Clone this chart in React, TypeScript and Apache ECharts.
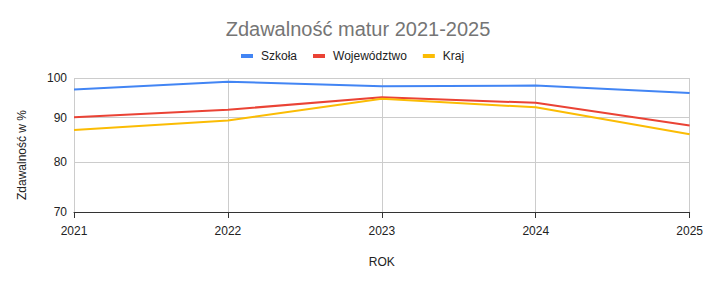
import React, { useEffect, useRef } from "react";
import * as echarts from "echarts";

const years = ["2021", "2022", "2023", "2024", "2025"];
const szkola = [97.0, 99.0, 97.8, 98.0, 96.1];
const wojewodztwo = [90.1, 91.9, 95.0, 93.6, 88.1];
const kraj = [87.1, 89.3, 94.6, 92.5, 86.1];
const yTicks = [70, 80, 90, 100];

const FONT = "'Liberation Sans', Arial, sans-serif";

export default function App() {
  const ref = useRef<HTMLDivElement>(null);
  useEffect(() => {
    document.body.style.margin = "0";
    if (!ref.current) return;
    const chart = echarts.init(ref.current, undefined, { renderer: "svg" });
    chart.setOption({
      animation: false,
      backgroundColor: "#ffffff",
      textStyle: { fontFamily: FONT },
      title: {
        text: "Zdawalność matur 2021-2025",
        left: 353,
        textAlign: "center",
        top: 14,
        textStyle: { fontFamily: FONT, fontSize: 20, fontWeight: "normal", color: "#757575" },
      },
      legend: {
        left: 236,
        top: 45,
        icon: "rect",
        itemWidth: 12,
        itemHeight: 4,
        itemGap: 16,
        textStyle: { fontFamily: FONT, fontSize: 12, color: "#222222", padding: [0, 0, 0, 3] },
        data: ["Szkoła", "Województwo", "Kraj"],
      },
      graphic: [
        {
          type: "text",
          x: 22,
          y: 155,
          rotation: Math.PI / 2,
          style: {
            text: "Zdawalność w %",
            fontFamily: FONT,
            fontSize: 12,
            fill: "#222222",
            align: "center",
            verticalAlign: "middle",
          },
        },
      ],
      grid: { left: 74, right: 15, top: 78, bottom: 73, containLabel: false },
      xAxis: [
        {
          type: "category",
          data: years,
          boundaryGap: false,
          name: "ROK",
          nameLocation: "middle",
          nameGap: 44,
          nameTextStyle: { fontFamily: FONT, fontSize: 12, color: "#222222" },
          axisLine: { show: true, lineStyle: { color: "#333333", width: 1 } },
          axisTick: { show: true, length: 6, inside: false, lineStyle: { color: "#333333" } },
          axisLabel: { margin: 13, fontFamily: FONT, fontSize: 12, color: "#222222" },
          splitLine: { show: true, lineStyle: { color: "#cccccc", width: 1 } },
          z: 3,
        },
        {
          type: "category",
          data: years,
          boundaryGap: false,
          position: "bottom",
          axisLine: { show: false },
          axisTick: { show: true, length: 6, inside: true, lineStyle: { color: "#333333" } },
          axisLabel: { show: false },
          splitLine: { show: false },
        },
      ],
      yAxis: {
        type: "log",
        logBase: 10,
        min: 70,
        max: 100,
        axisLine: { show: false },
        axisTick: { show: false, customValues: yTicks },
        axisLabel: {
          customValues: yTicks,
          margin: 7,
          fontFamily: FONT,
          fontSize: 12,
          color: "#222222",
        },
        splitLine: { show: true, lineStyle: { color: "#cccccc", width: 1 } },
      },
      series: [
        {
          name: "Szkoła",
          type: "line",
          data: szkola,
          showSymbol: false,
          symbol: "none",
          lineStyle: { width: 2, color: "#4285F4" },
          itemStyle: { color: "#4285F4" },
        },
        {
          name: "Województwo",
          type: "line",
          data: wojewodztwo,
          showSymbol: false,
          symbol: "none",
          lineStyle: { width: 2, color: "#EA4335" },
          itemStyle: { color: "#EA4335" },
        },
        {
          name: "Kraj",
          type: "line",
          data: kraj,
          showSymbol: false,
          symbol: "none",
          lineStyle: { width: 2, color: "#FBBC04" },
          itemStyle: { color: "#FBBC04" },
        },
      ],
    });
    return () => chart.dispose();
  }, []);
  return (
    <div
      ref={ref}
      style={{ position: "absolute", left: 0, top: 0, width: 706, height: 285 }}
    />
  );
}
